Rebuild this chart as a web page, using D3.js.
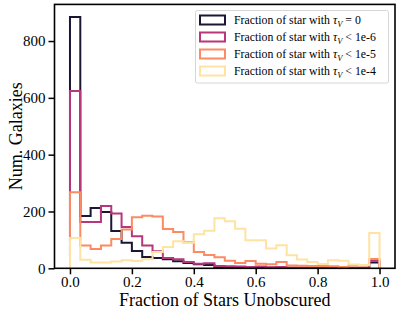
<!DOCTYPE html>
<html><head><meta charset="utf-8">
<script src="https://cdn.jsdelivr.net/npm/d3@7"></script>
<style>body{margin:0;background:#fff}svg{display:block}text{font-family:"Liberation Serif","DejaVu Serif",serif}</style>
</head><body><svg id="c" width="399" height="315"></svg>
<script>
const binEdges = d3.range(31).map(i => i / 30);
const seriesNames = ["τ=0", "<1e-6", "<1e-5", "<1e-4"];
const tau0 = [885,184,212,198,131,90,61,40,36,32,25,19,14,12,5,4,3,3,2,2,2,1,1,1,1,1,1,1,1,20];
const tau1e6 = [624,163,163,219,193,145,113,80,60,36,32,22,16,18,8,7,6,5,6,4,5,3,3,5,3,2,3,2,2,27];
const tau1e5 = [268,80,68,80,103,137,180,185,182,138,128,92,57,47,39,27,19,26,16,14,22,10,9,8,8,7,5,10,10,33];
const tau1e4 = [107,30,20,20,24,28,26,32,57,75,95,90,120,132,176,166,139,99,99,70,81,46,31,22,15,28,27,13,12,124];
const xTicks = [0, 0.2, 0.4, 0.6, 0.8, 1.0];
const yTicks = [0, 200, 400, 600, 800];
const legendLabels = ["= 0", "< 1e-6", "< 1e-5", "< 1e-4"];
const colors = ["#1c1635", "#b8377a", "#fc8a62", "#fee3a2"];

const svg = d3.select("#c");
const x = d3.scaleLinear().domain([-0.05, 1.05]).range([54.5, 395]);
const y = d3.scaleLinear().domain([0, 929]).range([268.3, 4.4]);

const allSeries = [tau0, tau1e6, tau1e5, tau1e4];
allSeries.forEach((vals, k) => {
  const pts = [[binEdges[0], 0]];
  vals.forEach((v, i) => { pts.push([binEdges[i], v]); pts.push([binEdges[i + 1], v]); });
  pts.push([binEdges[30], 0]);
  svg.append("path")
    .attr("d", d3.line().x(d => x(d[0])).y(d => y(d[1]))(pts))
    .attr("fill", "none").attr("stroke", colors[k]).attr("stroke-width", 2)
    .attr("stroke-linejoin", "miter");
});

// axes
const xAxis = d3.axisBottom(x).tickValues(xTicks).tickFormat(d3.format(".1f")).tickSize(6).tickPadding(2);
const gx = svg.append("g").attr("transform", `translate(0,${y(0)})`).call(xAxis);
const yAxis = d3.axisLeft(y).tickValues(yTicks).tickSize(6).tickPadding(3);
const gy = svg.append("g").attr("transform", `translate(${x(-0.05)},0)`).call(yAxis);
[gx, gy].forEach(g => {
  g.select(".domain").remove();
  g.selectAll(".tick line").attr("stroke", "#000").attr("stroke-width", 1.5);
  g.selectAll(".tick text").attr("font-size", 15).attr("fill", "#000").style("font-family", '"Liberation Serif",serif');
});

// frame
svg.append("rect").attr("x", x(-0.05)).attr("y", y(929)).attr("width", x(1.05) - x(-0.05)).attr("height", y(0) - y(929))
  .attr("fill", "none").attr("stroke", "#000").attr("stroke-width", 1.6);

// axis labels
svg.append("text").attr("x", (x(-0.05) + x(1.05)) / 2).attr("y", 306).attr("text-anchor", "middle")
  .attr("font-size", 18).text("Fraction of Stars Unobscured");
svg.append("text").attr("transform", `translate(22,${(y(0) + y(929)) / 2}) rotate(-90)`).attr("text-anchor", "middle")
  .attr("font-size", 18).text("Num. Galaxies");

// legend
const lg = svg.append("g");
lg.append("rect").attr("x", 195.5).attr("y", 10.5).attr("width", 193).attr("height", 72.5).attr("rx", 2)
  .attr("fill", "#fff").attr("fill-opacity", 0.8).attr("stroke", "#d6d6d6").attr("stroke-width", 1);
legendLabels.forEach((lab, k) => {
  const cy = 20 + k * 17;
  lg.append("rect").attr("x", 200).attr("y", cy - 4.5).attr("width", 25).attr("height", 9)
    .attr("fill", "none").attr("stroke", colors[k]).attr("stroke-width", 2);
  const t = lg.append("text").attr("x", 234).attr("y", cy + 4).attr("font-size", 11.8);
  t.append("tspan").text("Fraction of star with ");
  t.append("tspan").attr("font-style", "italic").text("τ");
  t.append("tspan").attr("font-style", "italic").attr("font-size", 8.5).attr("dy", 2.5).text("V");
  t.append("tspan").attr("dy", -2.5).text(" " + lab);
});
</script></body></html>
